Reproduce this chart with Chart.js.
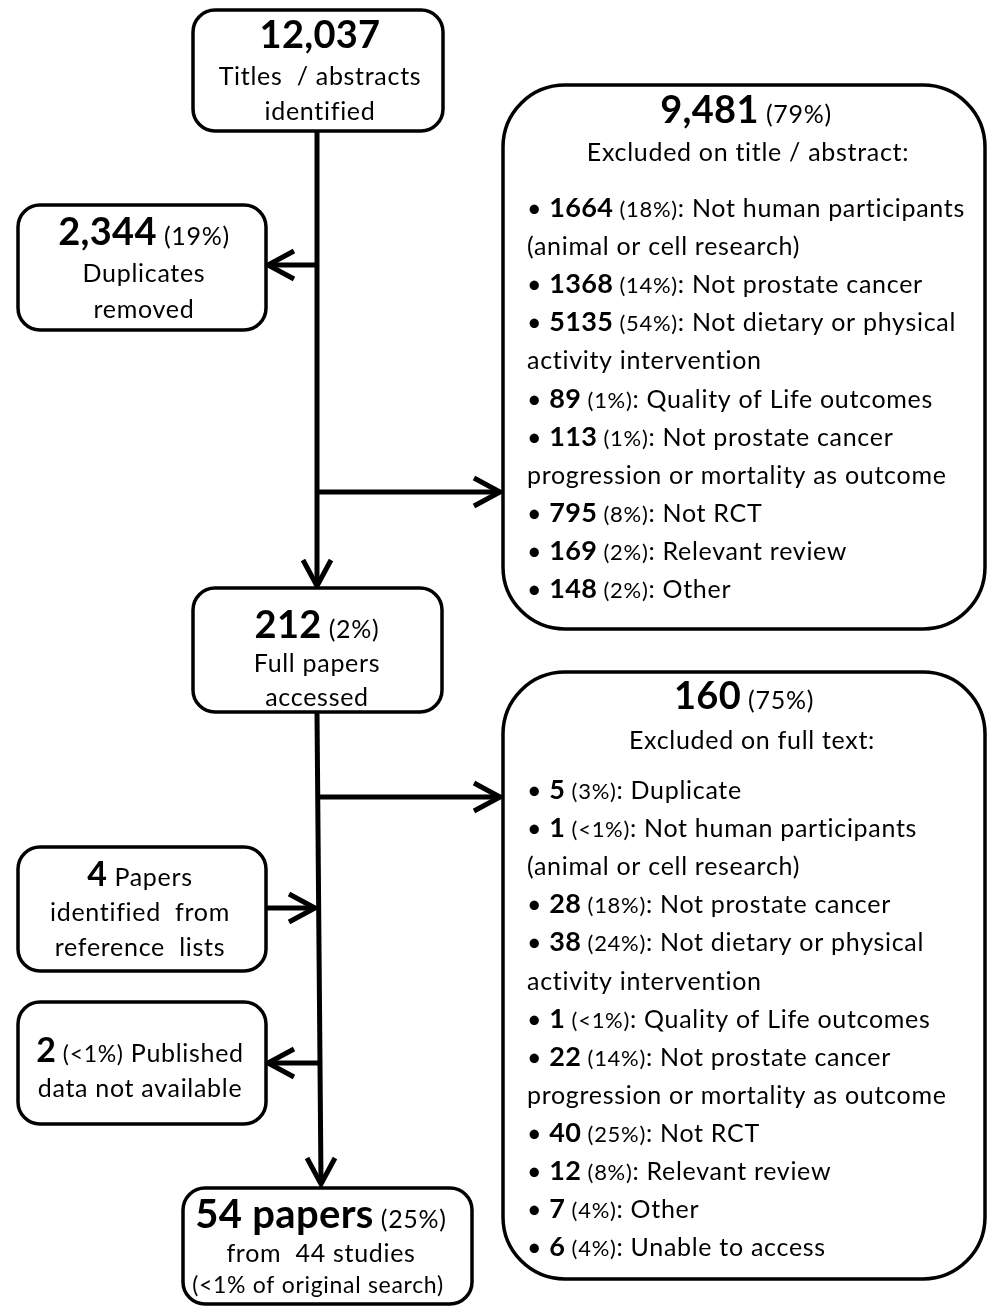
<!DOCTYPE html>
<html>
<head>
<meta charset="utf-8">
<script src="https://cdn.jsdelivr.net/npm/chart.js@4.4.1/dist/chart.umd.min.js"></script>
<style>
  html, body { margin: 0; padding: 0; background: #fff; }
</style>
</head>
<body>
<canvas id="flow" width="990" height="1307"></canvas>
<script>
// ---- data ----
const stageCounts   = ['12,037', '2,344', '9,481', '212', '160', '4', '2', '54 papers'];
const stagePercents = [null, '19%', '79%', '2%', '75%', null, '<1%', '25%'];

const titleCounts   = ['1664', '1368', '5135', '89', '113', '795', '169', '148'];
const titlePercents = ['18%', '14%', '54%', '1%', '1%', '8%', '2%', '2%'];
const titleReasons  = [
  'Not human participants\n(animal or cell research)',
  'Not prostate cancer',
  'Not dietary or physical\nactivity intervention',
  'Quality of Life outcomes',
  'Not prostate cancer\nprogression or mortality as outcome',
  'Not RCT',
  'Relevant review',
  'Other'
];

const fullCounts   = ['5', '1', '28', '38', '1', '22', '40', '12', '7', '6'];
const fullPercents = ['3%', '<1%', '18%', '24%', '<1%', '14%', '25%', '8%', '4%', '4%'];
const fullReasons  = [
  'Duplicate',
  'Not human participants\n(animal or cell research)',
  'Not prostate cancer',
  'Not dietary or physical\nactivity intervention',
  'Quality of Life outcomes',
  'Not prostate cancer\nprogression or mortality as outcome',
  'Not RCT',
  'Relevant review',
  'Other',
  'Unable to access'
];

// ---- layout (canvas units) ----
const FAM = 'Lato, "Open Sans", sans-serif';
const fBig = 'bold 38px ' + FAM;
const fHuge = 'bold 40px ' + FAM;
const fMid = 'bold 34px ' + FAM;
const fNum = 'bold 27px ' + FAM;
const fTxt = '25px ' + FAM;
const fPct = '22px ' + FAM;

const boxes = [
  { x0: 193, y0: 10,   x1: 443, y1: 131,  r: 22 },  // identified
  { x0: 18,  y0: 205,  x1: 266, y1: 330,  r: 22 },  // duplicates
  { x0: 503, y0: 85,   x1: 985, y1: 629,  r: 62 },  // excluded title
  { x0: 193, y0: 588,  x1: 442, y1: 712,  r: 22 },  // full papers
  { x0: 503, y0: 672,  x1: 985, y1: 1279, r: 62 },  // excluded full text
  { x0: 18,  y0: 847,  x1: 266, y1: 971,  r: 22 },  // reference lists
  { x0: 18,  y0: 1002, x1: 266, y1: 1124, r: 22 },  // not available
  { x0: 183, y0: 1188, x1: 472, y1: 1304, r: 22 }   // included
];

const shafts = [
  [[317, 131], [317, 584]],
  [[317, 265], [271, 265]],
  [[317, 492], [497, 492]],
  [[317, 712], [321, 1182]],
  [[318, 797], [497, 797]],
  [[266, 908], [312, 908]],
  [[321, 1063], [271, 1063]]
];
const heads = [
  { x: 317, y: 586, dx: 0, dy: 1 },
  { x: 268, y: 265, dx: -1, dy: 0 },
  { x: 500, y: 492, dx: 1, dy: 0 },
  { x: 321, y: 1184, dx: 0, dy: 1 },
  { x: 500, y: 797, dx: 1, dy: 0 },
  { x: 315, y: 908, dx: 1, dy: 0 },
  { x: 268, y: 1063, dx: -1, dy: 0 }
];

function pctRun(p, font) { return { t: ' (' + p + ')', f: font || fTxt }; }

// centred text lines: [box center x, baseline y, runs]
const centred = [
  [320, 48,  [{ t: stageCounts[0], f: fBig }]],
  [320, 85,  [{ t: 'Titles  / abstracts', f: fTxt }]],
  [320, 120, [{ t: 'identified', f: fTxt }]],

  [144, 245, [{ t: stageCounts[1], f: fBig }, pctRun(stagePercents[1])]],
  [144, 282, [{ t: 'Duplicates', f: fTxt }]],
  [144, 318, [{ t: 'removed', f: fTxt }]],

  [746, 123, [{ t: stageCounts[2], f: fBig }, pctRun(stagePercents[2])]],
  [748, 161, [{ t: 'Excluded on title / abstract:', f: fTxt }]],

  [317, 638, [{ t: stageCounts[3], f: fBig }, pctRun(stagePercents[3])]],
  [317, 672, [{ t: 'Full papers', f: fTxt }]],
  [317, 706, [{ t: 'accessed', f: fTxt }]],

  [744, 709, [{ t: stageCounts[4], f: fBig }, pctRun(stagePercents[4])]],
  [752, 749, [{ t: 'Excluded on full text:', f: fTxt }]],

  [140, 886, [{ t: stageCounts[5], f: fMid }, { t: ' Papers', f: fTxt }]],
  [140, 921, [{ t: 'identified  from', f: fTxt }]],
  [140, 956, [{ t: 'reference  lists', f: fTxt }]],

  [140, 1062, [{ t: stageCounts[6], f: fMid }, pctRun(stagePercents[6], '23px ' + FAM), { t: ' Published', f: fTxt }]],
  [140, 1097, [{ t: 'data not available', f: fTxt }]],

  [321, 1228, [{ t: stageCounts[7], f: fHuge }, pctRun(stagePercents[7])]],
  [321, 1262, [{ t: 'from  44 studies', f: fTxt }]],
  [318, 1293, [{ t: '(<1% of original search)', f: '23px ' + FAM }]]
];

// bullet list blocks
const lists = [
  { x: 527, y: 217, step: 38.1, counts: titleCounts, pcts: titlePercents, reasons: titleReasons },
  { x: 527, y: 799, step: 38.1, counts: fullCounts, pcts: fullPercents, reasons: fullReasons }
];

function spacingFor(font) { return font.indexOf('bold') === 0 ? '0.3px' : '0.7px'; }

function runsWidth(ctx, runs) {
  let w = 0;
  runs.forEach(r => {
    ctx.font = r.f;
    ctx.letterSpacing = spacingFor(r.f);
    w += ctx.measureText(r.t).width;
  });
  return w;
}

function drawRuns(ctx, runs, x, y) {
  let cx = x;
  runs.forEach(r => {
    ctx.font = r.f;
    ctx.letterSpacing = spacingFor(r.f);
    ctx.fillText(r.t, cx, y);
    cx += ctx.measureText(r.t).width;
  });
}

const flowPlugin = {
  id: 'flow',
  afterDraw(chart) {
    const ctx = chart.ctx;
    const sx = chart.scales.x, sy = chart.scales.y;
    const px = v => sx.getPixelForValue(v);
    const py = v => sy.getPixelForValue(v);
    ctx.save();

    // arrow heads
    ctx.strokeStyle = '#000';
    ctx.lineWidth = 5;
    ctx.lineJoin = 'miter';
    ctx.lineCap = 'butt';
    heads.forEach(h => {
      const len = 26, half = 14;
      const bx = h.x - h.dx * len, by = h.y - h.dy * len;
      ctx.beginPath();
      ctx.moveTo(px(bx - h.dy * half), py(by + h.dx * half));
      ctx.lineTo(px(h.x), py(h.y));
      ctx.lineTo(px(bx + h.dy * half), py(by - h.dx * half));
      ctx.stroke();
    });

    // boxes
    ctx.lineWidth = 3.5;
    boxes.forEach(b => {
      ctx.beginPath();
      ctx.roundRect(px(b.x0), py(b.y0), px(b.x1) - px(b.x0), py(b.y1) - py(b.y0), b.r);
      ctx.fillStyle = '#fff';
      ctx.fill();
      ctx.stroke();
    });

    // text
    ctx.fillStyle = '#000';
    ctx.textBaseline = 'alphabetic';
    ctx.textAlign = 'left';
    centred.forEach(([cx, by, runs]) => {
      const w = runsWidth(ctx, runs);
      drawRuns(ctx, runs, px(cx) - w / 2, py(by));
    });

    lists.forEach(L => {
      let line = 0;
      L.counts.forEach((c, i) => {
        const parts = L.reasons[i].split('\n');
        const runs = [
          { t: '\u2022 ', f: fTxt },
          { t: c, f: fNum },
          { t: ' (' + L.pcts[i] + ')', f: fPct },
          { t: ': ' + parts[0], f: fTxt }
        ];
        drawRuns(ctx, runs, px(L.x), py(L.y + line * L.step));
        line++;
        for (let k = 1; k < parts.length; k++) {
          drawRuns(ctx, [{ t: parts[k], f: fTxt }], px(L.x), py(L.y + line * L.step));
          line++;
        }
      });
    });

    ctx.restore();
  }
};

new Chart(document.getElementById('flow'), {
  type: 'scatter',
  data: {
    datasets: shafts.map(s => ({
      data: s.map(p => ({ x: p[0], y: p[1] })),
      showLine: true,
      borderColor: '#000',
      borderWidth: 5,
      pointRadius: 0,
      borderCapStyle: 'butt'
    }))
  },
  options: {
    responsive: false,
    animation: false,
    layout: { padding: 0 },
    events: [],
    scales: {
      x: { type: 'linear', min: 0, max: 990, display: false },
      y: { type: 'linear', min: 0, max: 1307, reverse: true, display: false }
    },
    plugins: {
      legend: { display: false },
      tooltip: { enabled: false }
    }
  },
  plugins: [flowPlugin]
});
</script>
</body>
</html>
